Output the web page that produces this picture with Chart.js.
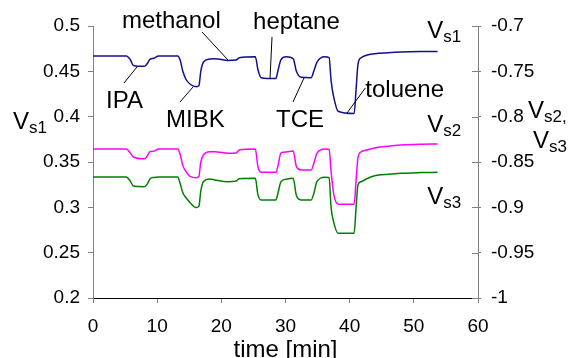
<!DOCTYPE html>
<html>
<head>
<meta charset="utf-8">
<script src="https://cdn.jsdelivr.net/npm/chart.js@4.4.1/dist/chart.umd.min.js"></script>
<style>
html,body{margin:0;padding:0;background:#fff;}
canvas{display:block;}
</style>
</head>
<body>
<canvas id="c" width="572" height="358"></canvas>
<script>
// ---- data ----
const timeMin = [0,5.2,5.8,6.3,8.0,8.4,8.9,9.5,10.2,13.2,13.6,14.0,14.5,15.2,16.1,16.5,16.8,17.2,18.2,19.0,21.0,22.3,22.8,25.3,25.7,26.2,28.5,28.8,29.3,30.1,31.2,31.7,32.4,34.0,34.4,34.9,36.1,36.8,37.1,37.5,38.2,40.7,41.0,41.3,41.8,42.5,43.9,46,48,51,53.7];
const vs1 = [0.467,0.467,0.463,0.4565,0.4555,0.458,0.4635,0.4645,0.467,0.467,0.462,0.450,0.441,0.4355,0.433,0.434,0.450,0.460,0.4635,0.464,0.462,0.4625,0.465,0.466,0.452,0.443,0.442,0.450,0.463,0.466,0.464,0.450,0.4435,0.443,0.450,0.460,0.466,0.465,0.440,0.422,0.406,0.4035,0.430,0.458,0.465,0.4675,0.4695,0.4705,0.4712,0.4718,0.472];
const vs2 = [-0.8357,-0.8357,-0.840,-0.8445,-0.8465,-0.844,-0.8385,-0.838,-0.8357,-0.8357,-0.842,-0.854,-0.8606,-0.8662,-0.8673,-0.866,-0.850,-0.8423,-0.8387,-0.8387,-0.8404,-0.840,-0.8368,-0.8357,-0.855,-0.8614,-0.8614,-0.855,-0.840,-0.839,-0.838,-0.855,-0.8588,-0.8588,-0.852,-0.8404,-0.8357,-0.836,-0.860,-0.885,-0.8966,-0.8966,-0.870,-0.845,-0.8387,-0.837,-0.8345,-0.8325,-0.8313,-0.8305,-0.8302];
const vs3 = [-0.8665,-0.8665,-0.871,-0.8765,-0.8772,-0.875,-0.8685,-0.867,-0.8665,-0.8665,-0.874,-0.884,-0.8895,-0.8954,-0.9003,-0.899,-0.882,-0.8717,-0.8687,-0.8698,-0.8717,-0.871,-0.8685,-0.868,-0.886,-0.8918,-0.8918,-0.885,-0.8717,-0.869,-0.868,-0.887,-0.8918,-0.8918,-0.885,-0.8717,-0.8668,-0.867,-0.900,-0.916,-0.9285,-0.9285,-0.900,-0.875,-0.8717,-0.869,-0.8651,-0.8635,-0.8624,-0.8617,-0.8614];
const xTicks = [0,10,20,30,40,50,60];
const leftTicks = [0.2,0.25,0.3,0.35,0.4,0.45,0.5];
const rightTicks = [-1,-0.95,-0.9,-0.85,-0.8,-0.75,-0.7];
const solvents = ["IPA","MIBK","methanol","heptane","TCE","toluene"];

const toXY = (ys) => ys.map((y,i) => ({x: timeMin[i], y}));
const FONT = '"Liberation Sans", Arial, sans-serif';
const fmt = v => String(parseFloat(Number(v).toFixed(2)));

// annotation layout (text anchor + leader line, in time / left-axis units)
const annot = [
  {t: solvents[0], at:[2.03,0.4096], line:[[4.83,0.4371],[6.86,0.4548]]},
  {t: solvents[1], at:[11.38,0.3886], line:[[13.56,0.4162],[15.58,0.4327]]},
  {t: solvents[2], at:[4.52,0.4978], line:[[16.99,0.4934],[21.04,0.4625]]},
  {t: solvents[3], at:[24.94,0.4967], line:[[27.9,0.4879],[27.59,0.4426]]},
  {t: solvents[4], at:[28.52,0.3886], line:[[31.17,0.4162],[32.88,0.4426]]},
  {t: solvents[5], at:[42.44,0.4217], line:[[42.44,0.4316],[39.58,0.4040]]}
];
const seriesLabels = [
  {sub:"s1", at:[52.1,0.4868]},
  {sub:"s2", at:[52.1,0.3831]},
  {sub:"s3", at:[52.1,0.3037]}
];

function drawV(ctx, x, y, sub, suffix){
  ctx.font = '24px ' + FONT;
  ctx.fillText('V', x, y);
  const w = ctx.measureText('V').width;
  ctx.font = '17px ' + FONT;
  ctx.fillText(sub + (suffix||''), x + w, y + 4);
}

const annoPlugin = {
  id: 'anno',
  afterDraw(chart){
    const ctx = chart.ctx, xs = chart.scales.x, ys = chart.scales.y, yr = chart.scales.y2;
    const ca = chart.chartArea;
    ctx.save();
    // inner half of right-axis ticks
    ctx.strokeStyle = '#808080'; ctx.lineWidth = 1;
    rightTicks.forEach(v => {
      const py = Math.round(yr.getPixelForValue(v)) + 0.5;
      ctx.beginPath(); ctx.moveTo(ca.right - 6, py); ctx.lineTo(ca.right, py); ctx.stroke();
    });
    ctx.fillStyle = '#000'; ctx.strokeStyle = '#000'; ctx.lineWidth = 1;
    ctx.textBaseline = 'alphabetic'; ctx.textAlign = 'left';
    annot.forEach(a => {
      ctx.font = '24px ' + FONT;
      ctx.fillText(a.t, xs.getPixelForValue(a.at[0]), ys.getPixelForValue(a.at[1]));
      ctx.beginPath();
      ctx.moveTo(xs.getPixelForValue(a.line[0][0]), ys.getPixelForValue(a.line[0][1]));
      ctx.lineTo(xs.getPixelForValue(a.line[1][0]), ys.getPixelForValue(a.line[1][1]));
      ctx.stroke();
    });
    seriesLabels.forEach(s => {
      drawV(ctx, xs.getPixelForValue(s.at[0]), ys.getPixelForValue(s.at[1]), s.sub);
    });
    // axis titles (horizontal)
    drawV(ctx, 13, 129, 's1');
    drawV(ctx, 528, 118, 's2', ',');
    drawV(ctx, 533, 148, 's3');
    ctx.font = '24px ' + FONT; ctx.textAlign = 'center';
    ctx.fillText('time [min]', (ca.left + ca.right) / 2, 357);
    ctx.restore();
  }
};

new Chart(document.getElementById('c'), {
  type: 'line',
  data: {
    datasets: [
      {label:'Vs1', data: toXY(vs1), yAxisID:'y', borderColor:'#10108a', borderWidth:1.5, pointRadius:0, cubicInterpolationMode:'monotone'},
      {label:'Vs2', data: toXY(vs2), yAxisID:'y2', borderColor:'#ff00ff', borderWidth:1.5, pointRadius:0, cubicInterpolationMode:'monotone'},
      {label:'Vs3', data: toXY(vs3), yAxisID:'y2', borderColor:'#008000', borderWidth:1.5, pointRadius:0, cubicInterpolationMode:'monotone'}
    ]
  },
  options: {
    responsive: false,
    animation: false,
    devicePixelRatio: 1,
    layout: {padding: {top: 26, left: 0, right: 0, bottom: 0}},
    plugins: {legend: {display:false}, tooltip: {enabled:false}},
    scales: {
      x: {
        type: 'linear', min: 0, max: 60,
        afterBuildTicks: s => { s.ticks = xTicks.map(v => ({value:v})); },
        afterFit: s => { s.height = 60; },
        border: {color:'#000', width:1},
        grid: {drawOnChartArea:false, color:'#808080', tickLength:5},
        ticks: {color:'#000', font:{family:FONT, size:19}, padding:12, maxRotation:0, callback: v => fmt(v)}
      },
      y: {
        position: 'left', min: 0.2, max: 0.5,
        afterBuildTicks: s => { s.ticks = leftTicks.map(v => ({value:v})); },
        afterFit: s => { s.width = 93; },
        border: {color:'#808080', width:1},
        grid: {drawOnChartArea:false, color:'#808080', tickLength:5},
        ticks: {color:'#000', font:{family:FONT, size:19}, padding:8, callback: v => fmt(v)}
      },
      y2: {
        position: 'right', min: -1, max: -0.7,
        afterBuildTicks: s => { s.ticks = rightTicks.map(v => ({value:v})); },
        afterFit: s => { s.width = 94; },
        border: {color:'#808080', width:1},
        grid: {drawOnChartArea:false, color:'#808080', tickLength:3},
        ticks: {color:'#000', font:{family:FONT, size:19}, padding:10, callback: v => fmt(v)}
      }
    }
  },
  plugins: [annoPlugin]
});
</script>
</body>
</html>
